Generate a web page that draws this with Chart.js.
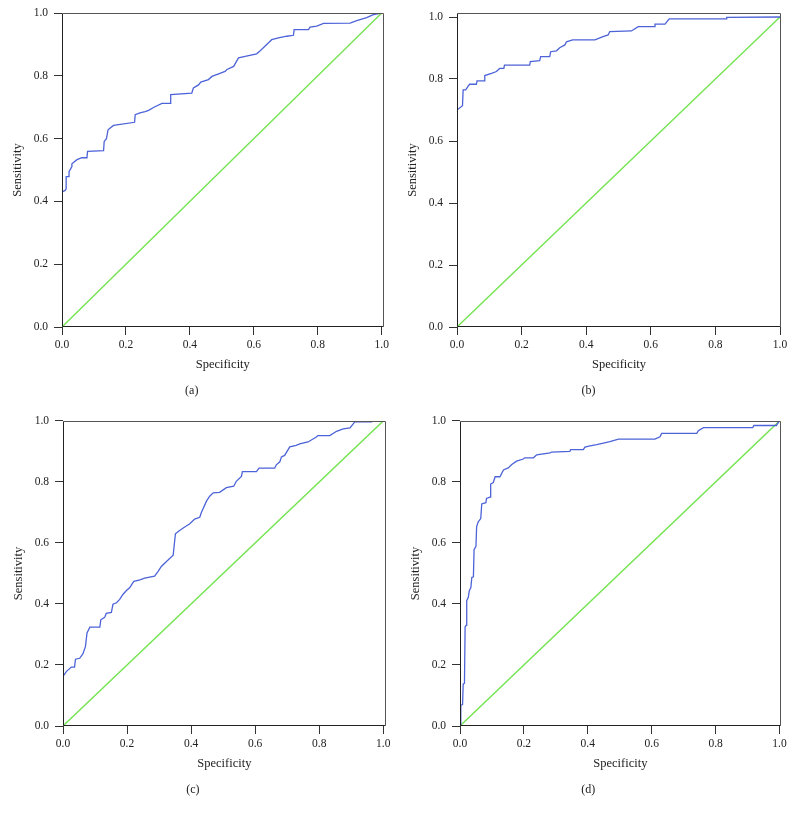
<!DOCTYPE html>
<html>
<head>
<meta charset="utf-8">
<script src="https://cdn.jsdelivr.net/npm/chart.js@4.4.1/dist/chart.umd.min.js"></script>
<style>
  html, body { margin: 0; padding: 0; background: #ffffff; }
  body { width: 796px; height: 817px; position: relative; overflow: hidden; }
  canvas { position: absolute; }
</style>
</head>
<body>
<canvas id="pa"></canvas>
<canvas id="pb"></canvas>
<canvas id="pc"></canvas>
<canvas id="pd"></canvas>
<script>
// ---------- data ----------
const panelLabels = ['(a)', '(b)', '(c)', '(d)'];
const xAxisTitle = 'Specificity';
const yAxisTitle = 'Sensitivity';
const tickValues = [0, 0.2, 0.4, 0.6, 0.8, 1.0];

const diagX = [0, 1];
const diagY = [0, 1];

const aX = [0, 0.010, 0.013, 0.013, 0.022, 0.022, 0.031, 0.031, 0.047, 0.062, 0.078, 0.080, 0.130, 0.132, 0.139, 0.144, 0.161, 0.227, 0.229, 0.244, 0.260, 0.271, 0.286, 0.3125, 0.338, 0.340, 0.406, 0.411, 0.427, 0.434, 0.458, 0.469, 0.490, 0.510, 0.516, 0.537, 0.552, 0.573, 0.609, 0.620, 0.646, 0.656, 0.677, 0.703, 0.724, 0.726, 0.771, 0.776, 0.797, 0.818, 0.901, 0.922, 0.953, 0.974, 0.995, 1.0];
const aY = [0.430, 0.435, 0.440, 0.479, 0.479, 0.495, 0.511, 0.520, 0.533, 0.539, 0.539, 0.559, 0.562, 0.591, 0.600, 0.628, 0.642, 0.652, 0.676, 0.682, 0.686, 0.690, 0.699, 0.712, 0.712, 0.740, 0.745, 0.761, 0.771, 0.780, 0.788, 0.798, 0.806, 0.814, 0.820, 0.830, 0.857, 0.862, 0.870, 0.880, 0.905, 0.915, 0.921, 0.926, 0.929, 0.947, 0.947, 0.955, 0.958, 0.967, 0.968, 0.976, 0.985, 0.995, 0.999, 1.0];

const bX = [0, 0.017, 0.019, 0.027, 0.034, 0.039, 0.060, 0.062, 0.084, 0.086, 0.107, 0.122, 0.132, 0.145, 0.147, 0.225, 0.227, 0.256, 0.259, 0.287, 0.290, 0.308, 0.318, 0.334, 0.339, 0.358, 0.427, 0.452, 0.468, 0.473, 0.540, 0.561, 0.610, 0.613, 0.644, 0.657, 0.833, 0.835, 1.0];
const bY = [0.700, 0.714, 0.765, 0.765, 0.776, 0.783, 0.783, 0.794, 0.794, 0.811, 0.818, 0.824, 0.834, 0.834, 0.845, 0.845, 0.856, 0.859, 0.872, 0.872, 0.888, 0.891, 0.901, 0.910, 0.920, 0.926, 0.926, 0.937, 0.942, 0.953, 0.955, 0.969, 0.969, 0.977, 0.977, 0.994, 0.994, 0.999, 1.0];

const cX = [0, 0.011, 0.026, 0.036, 0.039, 0.052, 0.062, 0.070, 0.075, 0.084, 0.115, 0.118, 0.130, 0.135, 0.151, 0.156, 0.167, 0.177, 0.187, 0.198, 0.208, 0.221, 0.240, 0.255, 0.286, 0.297, 0.307, 0.323, 0.344, 0.351, 0.364, 0.380, 0.395, 0.411, 0.427, 0.432, 0.448, 0.458, 0.469, 0.489, 0.510, 0.533, 0.541, 0.557, 0.560, 0.604, 0.612, 0.661, 0.666, 0.677, 0.682, 0.692, 0.708, 0.728, 0.739, 0.765, 0.791, 0.796, 0.833, 0.854, 0.875, 0.896, 0.911, 0.963, 0.970, 1.0];
const cY = [0.163, 0.179, 0.193, 0.193, 0.219, 0.222, 0.236, 0.260, 0.305, 0.324, 0.324, 0.348, 0.356, 0.369, 0.372, 0.399, 0.404, 0.415, 0.431, 0.444, 0.453, 0.474, 0.479, 0.485, 0.491, 0.507, 0.523, 0.539, 0.560, 0.630, 0.641, 0.652, 0.662, 0.678, 0.684, 0.700, 0.737, 0.753, 0.764, 0.766, 0.781, 0.786, 0.802, 0.818, 0.834, 0.834, 0.845, 0.845, 0.856, 0.866, 0.882, 0.887, 0.915, 0.920, 0.925, 0.931, 0.947, 0.952, 0.952, 0.966, 0.974, 0.977, 0.997, 0.997, 1.0, 1.0];

const dX = [0, 0.002, 0.003, 0.008, 0.010, 0.014, 0.016, 0.019, 0.021, 0.026, 0.029, 0.034, 0.037, 0.042, 0.044, 0.050, 0.052, 0.057, 0.065, 0.068, 0.081, 0.083, 0.094, 0.096, 0.104, 0.110, 0.125, 0.136, 0.151, 0.162, 0.177, 0.198, 0.203, 0.230, 0.240, 0.282, 0.287, 0.344, 0.346, 0.386, 0.391, 0.407, 0.428, 0.449, 0.469, 0.496, 0.610, 0.626, 0.631, 0.741, 0.746, 0.762, 0.916, 0.920, 0.990, 1.0];
const dY = [0, 0.030, 0.068, 0.070, 0.137, 0.140, 0.325, 0.330, 0.411, 0.422, 0.443, 0.454, 0.487, 0.489, 0.578, 0.589, 0.653, 0.669, 0.680, 0.728, 0.732, 0.746, 0.750, 0.793, 0.798, 0.817, 0.817, 0.839, 0.846, 0.857, 0.868, 0.875, 0.879, 0.879, 0.889, 0.895, 0.898, 0.900, 0.906, 0.906, 0.914, 0.918, 0.922, 0.927, 0.932, 0.940, 0.940, 0.948, 0.959, 0.959, 0.968, 0.978, 0.978, 0.985, 0.985, 1.0];

// ---------- styling / geometry ----------
const FONT = '"Liberation Serif", "DejaVu Serif", "Times New Roman", serif';
const ROC_COLOR = '#4d63d8';
const DIAG_COLOR = '#74e452';
const X_AXIS_H = 50;
const TITLE_PAD_TOP = 6.8;
const TITLE_LH = 12 * 1.2;

const geoms = {
  pa: { cl: 0,   ct: 0,   W: 398, H: 405, left: 62,  one: 381.7, right: 383.5, top: 13,  bottom: 327, oneY: 13 },
  pb: { cl: 396, ct: 0,   W: 399, H: 405, left: 457, one: 780,   right: 781,   top: 13,  bottom: 327, oneY: 17 },
  pc: { cl: 0,   ct: 408, W: 398, H: 405, left: 63,  one: 383.3, right: 385.7, top: 416, bottom: 726, oneY: 416 },
  pd: { cl: 396, ct: 408, W: 399, H: 405, left: 460, one: 779.5, right: 780.7, top: 416, bottom: 726, oneY: 416 }
};

function toPoints(xs, ys) {
  return xs.map((x, i) => ({ x: x, y: ys[i] }));
}

const framePlugin = {
  id: 'frame',
  afterDatasetsDraw(chart) {
    const a = chart.chartArea;
    const ctx = chart.ctx;
    const L = Math.round(a.left) + 0.5, R = Math.round(a.right) - 0.5;
    const T = Math.round(a.top) + 0.5, B = Math.round(a.bottom) - 0.5;
    ctx.save();
    ctx.lineWidth = 1;
    ctx.strokeStyle = '#555';
    ctx.beginPath();
    ctx.moveTo(L, T); ctx.lineTo(R, T); ctx.lineTo(R, B);
    ctx.stroke();
    ctx.strokeStyle = '#222';
    ctx.beginPath();
    ctx.moveTo(L, T); ctx.lineTo(L, B); ctx.lineTo(R, B);
    ctx.stroke();
    ctx.restore();
  }
};

function buildPanel(id, label, xs, ys) {
  const g = geoms[id];
  const canvas = document.getElementById(id);
  canvas.width = g.W; canvas.height = g.H;
  canvas.style.width = g.W + 'px'; canvas.style.height = g.H + 'px';
  canvas.style.left = g.cl + 'px'; canvas.style.top = g.ct + 'px';

  const xMax = (g.right - g.left) / (g.one - g.left);
  const yMax = (g.bottom - g.top) / (g.bottom - g.oneY);
  const yAxisW = g.left - g.cl;
  const padRight = g.W - (g.right - g.cl);
  const titlePadBottom = g.H - (g.bottom - g.ct) - X_AXIS_H - TITLE_PAD_TOP - TITLE_LH;
  const yTitlePad = (g.left - 44.5) - g.cl - 7.5;

  const tickCommon = {
    stepSize: 0.2,
    includeBounds: false,
    color: '#222',
    font: { family: FONT, size: 11.5 },
    callback: (v) => Number(v).toFixed(1)
  };
  const gridCommon = { display: true, drawOnChartArea: false, drawTicks: true, tickLength: 8, color: '#333', lineWidth: 1 };

  new Chart(canvas, {
    type: 'scatter',
    data: {
      datasets: [
        { label: 'ROC', data: toPoints(xs, ys), showLine: true, borderColor: ROC_COLOR, borderWidth: 1.3, pointRadius: 0, tension: 0, fill: false, order: 1 },
        { label: 'Reference', data: toPoints(diagX, diagY), showLine: true, borderColor: DIAG_COLOR, borderWidth: 1.4, pointRadius: 0, tension: 0, fill: false, order: 2 }
      ]
    },
    options: {
      responsive: false,
      animation: false,
      devicePixelRatio: 1,
      layout: { padding: { top: g.top - g.ct, left: 0, right: padRight, bottom: 0 } },
      plugins: {
        legend: { display: false },
        tooltip: { enabled: false },
        title: {
          display: true, text: label, position: 'bottom', color: '#222',
          font: { family: FONT, size: 12, weight: 'normal', lineHeight: 1.2 },
          padding: { top: TITLE_PAD_TOP, bottom: titlePadBottom }
        }
      },
      scales: {
        x: {
          type: 'linear', position: 'bottom', min: 0, max: xMax,
          ticks: Object.assign({}, tickCommon, { padding: 3, maxRotation: 0 }),
          afterBuildTicks: (s) => { s.ticks = tickValues.map(v => ({ value: v })); },
          grid: gridCommon,
          border: { display: false },
          title: { display: true, text: xAxisTitle, color: '#222', font: { family: FONT, size: 12.5, lineHeight: 1.2 }, padding: { top: 0, bottom: 4.5 } },
          afterFit: (s) => { s.height = X_AXIS_H; }
        },
        y: {
          type: 'linear', position: 'left', min: 0, max: yMax,
          ticks: Object.assign({}, tickCommon, { padding: 6 }),
          afterBuildTicks: (s) => { s.ticks = tickValues.map(v => ({ value: v })); },
          grid: gridCommon,
          border: { display: false },
          title: { display: true, text: yAxisTitle, color: '#222', font: { family: FONT, size: 12.5, lineHeight: 1.2 }, padding: { top: yTitlePad, bottom: 0 } },
          afterFit: (s) => { s.width = yAxisW; }
        }
      }
    },
    plugins: [framePlugin]
  });
}

buildPanel('pa', panelLabels[0], aX, aY);
buildPanel('pb', panelLabels[1], bX, bY);
buildPanel('pc', panelLabels[2], cX, cY);
buildPanel('pd', panelLabels[3], dX, dY);
</script>
</body>
</html>
